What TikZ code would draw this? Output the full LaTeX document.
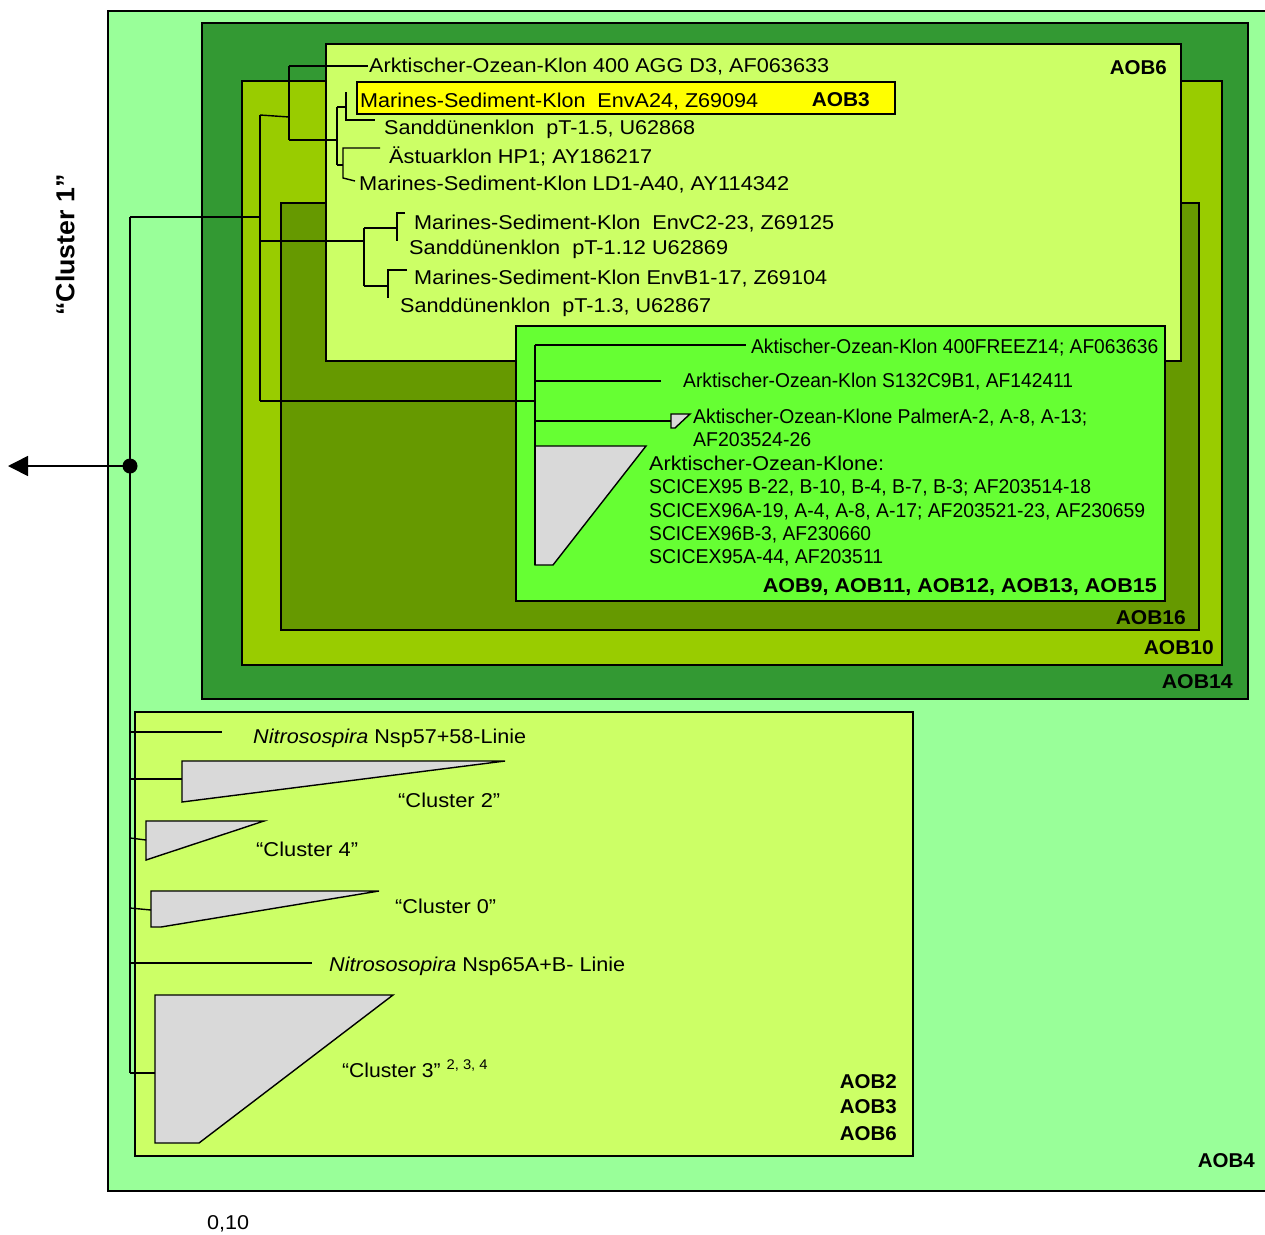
\documentclass[tikz,border=0pt]{standalone}
\usepackage{fontspec}
\setmainfont{Liberation Sans}
\usetikzlibrary{arrows.meta}
\definecolor{cFour}{HTML}{99FF99}
\definecolor{cFourteen}{HTML}{339933}
\definecolor{cTen}{HTML}{99CC00}
\definecolor{cSixteen}{HTML}{669900}
\definecolor{cSix}{HTML}{CCFF66}
\definecolor{cNine}{HTML}{66FF33}
\definecolor{cYel}{HTML}{FFFF00}
\definecolor{triGray}{HTML}{D9D9D9}
\newcommand{\fw}[2]{\resizebox{#1pt}{\height}{#2}}
\begin{document}
\begin{tikzpicture}[x=1pt,y=-1pt,
  lab/.style={inner sep=0pt, anchor=west, text height=14pt, text depth=0pt, font=\fontsize{20}{24}\selectfont},
  labr/.style={lab, anchor=east},
  bl/.style={lab, anchor=east, font=\fontsize{20}{24}\selectfont\bfseries},
  box/.style={draw=black, line width=1.6pt},
  br/.style={draw=black, line width=1.4pt},
  tri/.style={draw=black, line width=1.4pt, fill=triGray}]
\useasboundingbox (0,0) rectangle (1265,1234);
% boxes
\filldraw[box, fill=cFour] (108,11) rectangle (1275,1191);
\filldraw[box, fill=cFourteen] (202,23) rectangle (1248,699);
\filldraw[box, fill=cTen] (242,81) rectangle (1222,665);
\filldraw[box, fill=cSixteen] (281,203) rectangle (1199,630);
\filldraw[box, fill=cSix] (326,44) rectangle (1181,361);
\filldraw[box, fill=cNine] (516,326) rectangle (1165,601);
\filldraw[box, fill=cYel] (357,82) rectangle (895,114);
\filldraw[box, fill=cSix] (135,712) rectangle (913,1156);
% triangles (collapsed clusters)
\filldraw[tri] (671,414) -- (690,414) -- (675,428) -- (671,428) -- cycle;
\filldraw[tri] (535,446) -- (646,446) -- (553,565) -- (535,565) -- cycle;
\filldraw[tri] (182,761) -- (505,761) -- (182,802) -- cycle;
\filldraw[tri] (146,821) -- (264,821) -- (146,860) -- cycle;
\filldraw[tri] (151,891) -- (379,891) -- (161,927) -- (151,927) -- cycle;
\filldraw[tri] (155,995) -- (393,995) -- (199,1143) -- (155,1143) -- cycle;
% tree coordinates
\coordinate (rtop) at (130,217);
\coordinate (rbot) at (130,1073);
\coordinate (rdot) at (130,466);
\coordinate (aend) at (8,466);
\coordinate (A) at (260,217);
\coordinate (A1) at (260,115);
\coordinate (A2) at (260,401);
\coordinate (B) at (289,117);
\coordinate (B1) at (289,66);
\coordinate (B2) at (289,140);
\coordinate (b1e) at (368,66);
\coordinate (C) at (337,140);
\coordinate (C1) at (337,107);
\coordinate (C2) at (337,165);
\coordinate (D1) at (346,107);
\coordinate (D1t) at (346,92);
\coordinate (D1b) at (346,120);
\coordinate (d1e) at (375,120);
\coordinate (E) at (343,165);
\coordinate (E1) at (343,148);
\coordinate (E2) at (343,178);
\coordinate (e1e) at (380,148);
\coordinate (e2e) at (355,181);
\coordinate (F0) at (260,241);
\coordinate (F) at (364,241);
\coordinate (F1) at (364,228);
\coordinate (F2) at (364,286);
\coordinate (G) at (397,228);
\coordinate (G1) at (397,213);
\coordinate (G2) at (397,241);
\coordinate (g1e) at (405,213);
\coordinate (H) at (388,286);
\coordinate (H1) at (388,270);
\coordinate (H2) at (388,298);
\coordinate (h1e) at (407,270);
\coordinate (K) at (535,401);
\coordinate (K1) at (535,345);
\coordinate (K2) at (535,565);
\coordinate (k1e) at (746,345);
\coordinate (k2) at (535,381);
\coordinate (k2e) at (661,381);
\coordinate (k3) at (535,421);
\coordinate (k3e) at (671,421);
\coordinate (L1) at (130,732);
\coordinate (l1e) at (222,732);
\coordinate (L2) at (130,779);
\coordinate (l2e) at (182,779);
\coordinate (L3) at (130,838);
\coordinate (l3e) at (146,840);
\coordinate (L4) at (130,908);
\coordinate (l4e) at (151,910);
\coordinate (L5) at (130,963);
\coordinate (l5e) at (312,963);
\coordinate (l6e) at (155,1073);
% tree lines
\draw[br] (rtop) -- (rbot);
\draw[br] (rtop) -- (A);
\draw[br] (A1) -- (A2);
\draw[br] (A1) -- (B);
\draw[br] (B1) -- (B2);
\draw[br] (B1) -- (b1e);
\draw[br] (B2) -- (C);
\draw[br] (C1) -- (C2);
\draw[br] (C1) -- (D1);
\draw[br] (D1t) -- (D1b) -- (d1e);
\draw[br] (C2) -- (E);
\draw[br] (e1e) -- (E1) -- (E2) -- (e2e);
\draw[br] (F0) -- (F);
\draw[br] (F1) -- (F2);
\draw[br] (F1) -- (G);
\draw[br] (g1e) -- (G1) -- (G2);
\draw[br] (F2) -- (H);
\draw[br] (h1e) -- (H1) -- (H2);
\draw[br] (A2) -- (K);
\draw[br] (K1) -- (K2);
\draw[br] (K1) -- (k1e);
\draw[br] (k2) -- (k2e);
\draw[br] (k3) -- (k3e);
\draw[br] (L1) -- (l1e);
\draw[br] (L2) -- (l2e);
\draw[br] (L3) -- (l3e);
\draw[br] (L4) -- (l4e);
\draw[br] (L5) -- (l5e);
\draw[br] (rbot) -- (l6e);
\draw[line width=1.6pt, -{Triangle[length=20pt,width=20pt]}] (rdot) -- (aend);
\fill (rdot) circle (7.5pt);
% labels top cluster
\node[lab] (t1) at (369,65) {\fw{460}{Arktischer-Ozean-Klon 400 AGG D3, AF063633}};
\node[lab] (t2) at (360,100) {\fw{398}{Marines-Sediment-Klon\ \ EnvA24, Z69094}};
\node[bl] (t2b) at (870,99) {\fw{58}{AOB3}};
\node[lab] (t3) at (384,127) {\fw{311}{Sanddünenklon\ \ pT-1.5, U62868}};
\node[lab] (t4) at (389,156) {\fw{263}{Ästuarklon HP1; AY186217}};
\node[lab] (t5) at (359,183) {\fw{430}{Marines-Sediment-Klon LD1-A40, AY114342}};
\node[lab] (t6) at (414,222) {\fw{420}{Marines-Sediment-Klon\ \ EnvC2-23, Z69125}};
\node[lab] (t7) at (409,247) {\fw{319}{Sanddünenklon\ \ pT-1.12 U62869}};
\node[lab] (t8) at (414,277) {\fw{413}{Marines-Sediment-Klon EnvB1-17, Z69104}};
\node[lab] (t9) at (400,305) {\fw{311}{Sanddünenklon\ \ pT-1.3, U62867}};
% labels arctic cluster
\node[lab] (u1) at (751,346) {\fw{407}{Aktischer-Ozean-Klon 400FREEZ14; AF063636}};
\node[lab] (u2) at (683,380) {\fw{390}{Arktischer-Ozean-Klon S132C9B1, AF142411}};
\node[lab] (u3) at (693,416) {\fw{394}{Aktischer-Ozean-Klone PalmerA-2, A-8, A-13;}};
\node[lab] (u4) at (693,439) {\fw{118}{AF203524-26}};
\node[lab] (u5) at (649,463) {\fw{235}{Arktischer-Ozean-Klone:}};
\node[lab] (u6) at (649,486) {\fw{442}{SCICEX95 B-22, B-10, B-4, B-7, B-3; AF203514-18}};
\node[lab] (u7) at (649,510) {\fw{496}{SCICEX96A-19, A-4, A-8, A-17; AF203521-23, AF230659}};
\node[lab] (u8) at (649,533) {\fw{222}{SCICEX96B-3, AF230660}};
\node[lab] (u9) at (649,556) {\fw{234}{SCICEX95A-44, AF203511}};
% group labels
\node[bl] (g9) at (1157,585) {\fw{394}{AOB9, AOB11, AOB12, AOB13, AOB15}};
\node[bl] (g6) at (1167,67) {\fw{57}{AOB6}};
\node[bl] (g16) at (1186,617) {\fw{70}{AOB16}};
\node[bl] (g10) at (1214,647) {\fw{70}{AOB10}};
\node[bl] (g14) at (1233,681) {\fw{71}{AOB14}};
\node[bl] (g2) at (897,1081) {\fw{57}{AOB2}};
\node[bl] (g3) at (897,1106) {\fw{57}{AOB3}};
\node[bl] (g6b) at (897,1133) {\fw{57}{AOB6}};
\node[bl] (g4) at (1255,1160) {\fw{57}{AOB4}};
% lower labels
\node[lab] (v1) at (253,736) {\fw{273}{\textit{Nitrosospira} Nsp57+58-Linie}};
\node[lab] (v2) at (398,800) {\fw{102}{“Cluster 2”}};
\node[lab] (v3) at (256,849) {\fw{102}{“Cluster 4”}};
\node[lab] (v4) at (395,906) {\fw{101}{“Cluster 0”}};
\node[lab] (v5) at (329,964) {\fw{296}{\textit{Nitrososopira} Nsp65A+B- Linie}};
\node[lab] (v6) at (342,1070) {\fw{146}{“Cluster 3” \textsuperscript{2, 3, 4}}};
\node[lab] (scale) at (207,1222) {\fw{42}{0,10}};
\node[inner sep=0pt, rotate=90, font=\fontsize{26}{30}\selectfont\bfseries] (cl1) at (65,245) {\fw{141}{“Cluster 1”}};
\end{tikzpicture}
\end{document}
